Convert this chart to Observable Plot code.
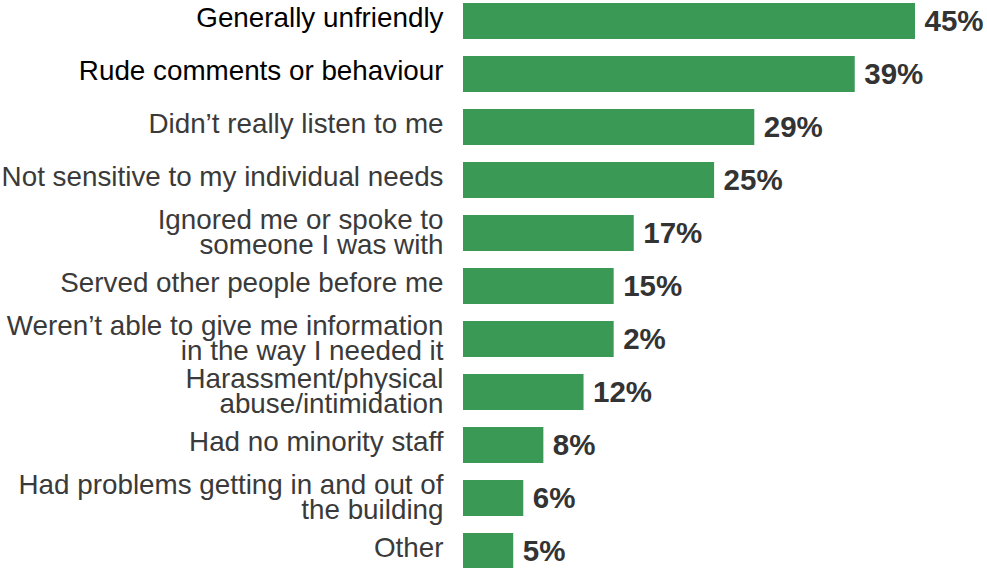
<!DOCTYPE html>
<html>
<head>
<meta charset="utf-8">
<script src="https://cdn.jsdelivr.net/npm/d3@7"></script>
<script src="https://cdn.jsdelivr.net/npm/@observablehq/plot@0.6"></script>
<style>
  html, body { margin: 0; padding: 0; background: #fff; }
  #chart svg { display: block; }
</style>
</head>
<body>
<div id="chart"></div>
<script>
const categories = [
  "Generally unfriendly",
  "Rude comments or behaviour",
  "Didn’t really listen to me",
  "Not sensitive to my individual needs",
  "Ignored me or spoke to\nsomeone I was with",
  "Served other people before me",
  "Weren’t able to give me information\nin the way I needed it",
  "Harassment/physical\nabuse/intimidation",
  "Had no minority staff",
  "Had problems getting in and out of\nthe building",
  "Other"
];
const values = [45, 39, 29, 25, 17, 15, 15, 12, 8, 6, 5];
const valueLabels = ["45%", "39%", "29%", "25%", "17%", "15%", "2%", "12%", "8%", "6%", "5%"];

const data = categories.map((c, i) => ({category: c, value: values[i], label: valueLabels[i], idx: i}));
const single = data.filter(d => !d.category.includes("\n"));
const multi = data.filter(d => d.category.includes("\n"));

const labelStyle = {
  x: 0, y: "category", text: "category",
  dx: -20, textAnchor: "end", fontSize: 27.8, lineHeight: 0.88,
  fill: d => d.idx < 2 ? "#000000" : "#3a3a3a"
};

const chart = Plot.plot({
  width: 987,
  height: 568,
  marginTop: 0,
  marginBottom: 0,
  marginLeft: 463,
  marginRight: 72,
  style: {fontFamily: "'Liberation Sans', Arial, Helvetica, sans-serif", background: "#fff"},
  x: {domain: [0, 45], axis: null},
  y: {domain: categories, range: [1.3, 570.3], paddingInner: 0.325, paddingOuter: 0, axis: null},
  marks: [
    Plot.barX(data, {x: "value", y: "category", fill: "#3b9956"}),
    Plot.text(single, {...labelStyle, dy: -2.5}),
    Plot.text(multi, {...labelStyle, dy: 0}),
    Plot.text(data, {
      x: "value", y: "category", text: "label",
      dx: 9, dy: 0, textAnchor: "start", fontSize: 29.5, fontWeight: "bold",
      fill: "#333333"
    })
  ]
});
document.getElementById("chart").appendChild(chart);
</script>
</body>
</html>
